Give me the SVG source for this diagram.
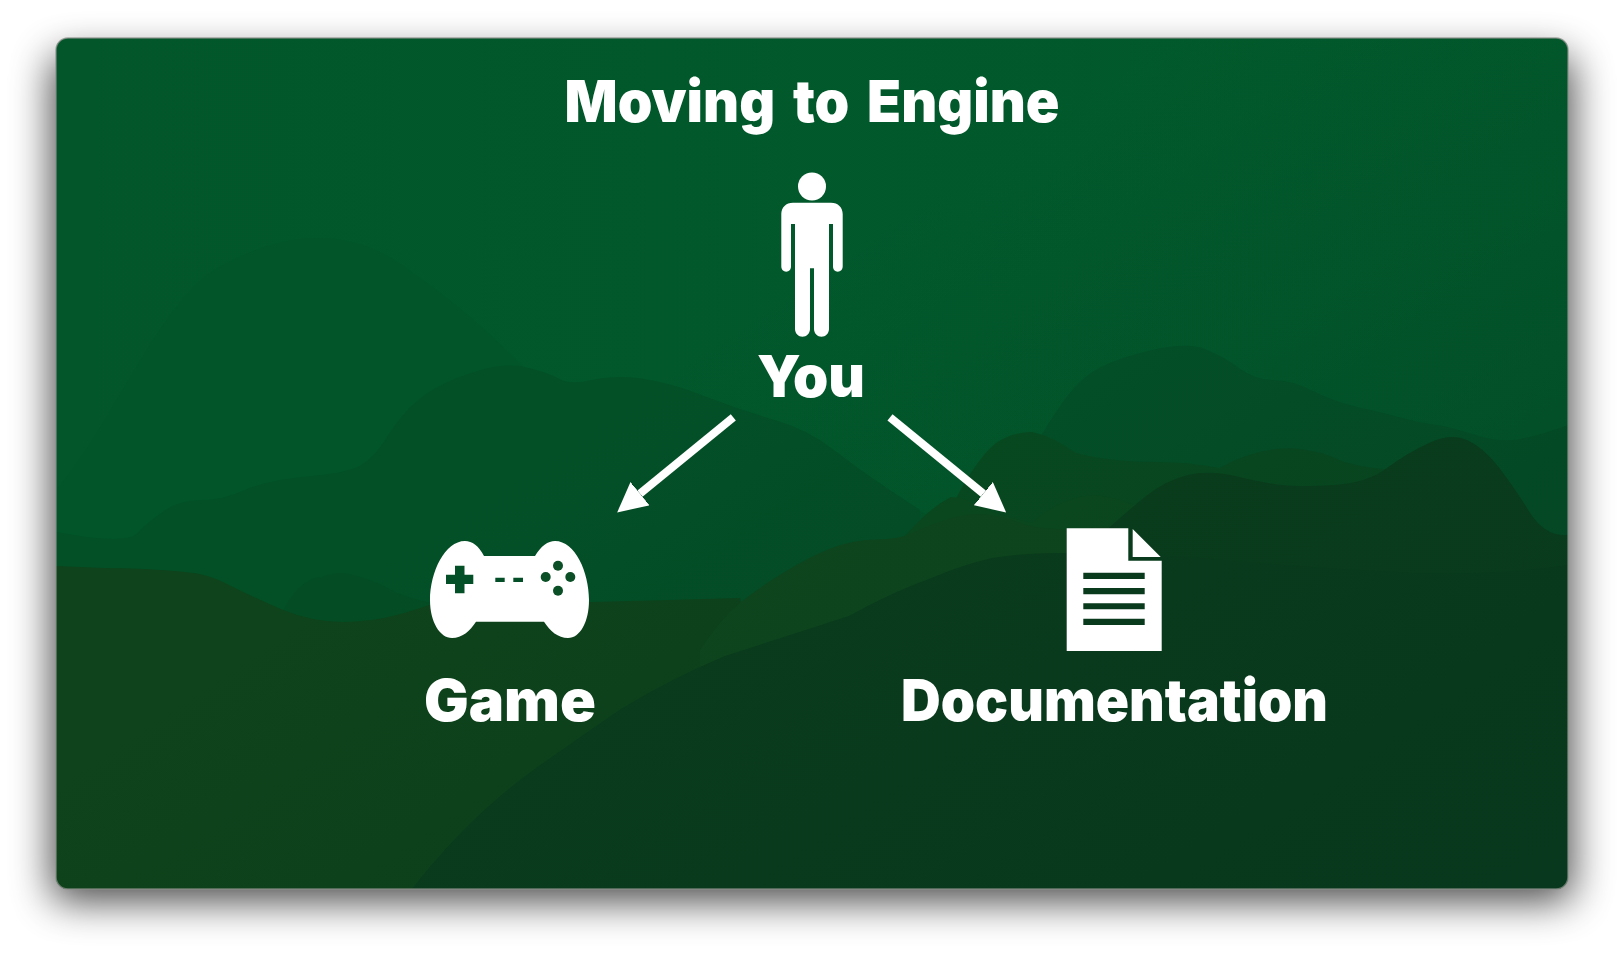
<svg xmlns="http://www.w3.org/2000/svg" width="1624" height="963" viewBox="0 0 1624 963">
<style>
.lbl{font-family:"Inter","Lato","Liberation Sans",sans-serif;font-weight:900;fill:#fff;text-anchor:middle;font-variant-ligatures:none}
.ico{fill:#fff}
.cut{fill:#0a4f26}
.conn{stroke:#fff;stroke-width:8;fill:none;marker-end:url(#head)}
</style>
<defs>
<clipPath id="card"><rect x="56" y="38" width="1512" height="851" rx="12"/></clipPath>
<filter id="sh" x="-10%" y="-15%" width="120%" height="130%"><feGaussianBlur stdDeviation="20"/></filter>
<linearGradient id="bg" x1="0" y1="0" x2="1" y2="0"><stop offset="0" stop-color="#02562a"/><stop offset="1" stop-color="#015b2c"/></linearGradient>
<linearGradient id="dark" x1="0.35" y1="0.45" x2="1" y2="1"><stop offset="0" stop-color="#06341e" stop-opacity="0"/><stop offset="1" stop-color="#06341e" stop-opacity=".5"/></linearGradient>
<marker id="head" markerUnits="userSpaceOnUse" markerWidth="30" markerHeight="30" refX="0" refY="15" orient="auto"><path d="M0 0L29.500 15L0 30Z" fill="#fff"/></marker>
</defs>
<rect x="52" y="56" width="1520" height="845" rx="12" fill="#000" opacity=".72" filter="url(#sh)"/>
<g id="background" clip-path="url(#card)">
<rect x="56" y="38" width="1512" height="851" fill="url(#bg)"/>
<path fill="#025529" d="M56 490C110 430 160 300 218 268C280 232 352 222 414 274C466 310 497 340 539 383L787 435L932 518V889H56Z"/>
<path fill="#035228" d="M1020 470Q1050 420 1065.500 398.500Q1081 377 1101 367Q1121 357 1154.500 349.500Q1188 342 1206 349.500Q1224 357 1239.500 368.500Q1255 380 1273 380Q1291 380 1313 391Q1335 402 1359.500 407.500Q1384 413 1400 417.500Q1416 422 1433.500 424.500Q1451 427 1475.500 435Q1500 443 1520.500 439Q1541 435 1568 425V889H1020Z"/>
<path fill="#035027" d="M56 532Q126 545 137 533.500Q148 522 164 511Q180 500 201.500 500Q223 500 245 490Q267 480 307.500 476.500Q348 473 361.500 465Q375 457 388.500 435Q402 413 421 398Q440 383 472.500 372.500Q505 362 527 367.500Q549 373 559.500 379Q570 385 592 380Q614 375 641 378.500Q668 382 704 396Q740 410 774.500 420Q809 430 836 451.500Q863 473 920 510V889H56Z"/>
<path fill="#084b20" d="M950 510Q975 460 996 443Q1012 432 1032 432Q1052 436 1076 453Q1110 462 1157 462Q1190 462 1219 468Q1255 448 1291 448Q1320 450 1344 462Q1375 470 1400 470L1440 600H950Z"/>
<path fill="#0b4a1e" d="M895 548Q925 510 951 497Q965 497 978 507Q1005 517 1032 523Q1060 497 1094 495Q1115 497 1134 505L1160 600H895Z"/>
<path fill="#044d24" d="M283 610Q300 578 321 577Q340 570 353 575Q375 580 397 593Q415 600 440 605V650H283Z"/>
<path fill="#0e431b" d="M56 566Q80 567 104 568Q145 568 185 572Q210 574 229 585Q255 598 283 610Q313 622 343 622Q370 622 397 615Q415 610 429 605Q510 602 592 602Q670 600 740 598L820 889H56Z"/>
<path fill="#0f471d" d="M700 650Q722 617 741 602Q760 587 784.500 572Q809 557 830.500 548.500Q852 540 876 539.500Q900 539 912.500 533Q925 527 947 519.500Q969 512 987 514.500Q1005 517 1018.500 522.500Q1032 528 1056 529Q1080 530 1120 525V889H700Z"/>
<path fill="#0a3e1b" d="M1090 545Q1125 513 1145.500 496.500Q1166 480 1188 475Q1210 470 1237 476.500Q1264 483 1282 485Q1300 487 1333.500 485Q1367 483 1387 468Q1407 453 1429 443Q1451 433 1467 440Q1483 447 1498.500 467Q1514 487 1529.500 512Q1545 537 1568 535V889H1090Z"/>
<path fill="#0a3c1c" d="M412 889Q470 815 539 766Q580 737 621 709Q672 678 725 656Q787 636 849 616Q892 592 934 577Q962 565 992 558Q1025 553 1059 553Q1130 553 1200 558Q1310 568 1416 573Q1500 575 1568 565V889Z"/>
<rect x="56" y="38" width="1512" height="851" fill="url(#dark)"/>
</g>
<rect x="56" y="38" width="1512" height="851" rx="12" fill="none" stroke="#8a8f8a" stroke-opacity=".75" stroke-width="1.500"/>
<text id="title" class="lbl" x="812" y="122" font-size="58" word-spacing="7" textLength="495" lengthAdjust="spacingAndGlyphs">Moving to Engine</text>
<g id="node-you">
<circle class="ico" cx="812" cy="186.500" r="14"/>
<path class="ico" d="M793 202.700H831C838 202.700 842.700 207.500 842.700 214V266.500C842.700 269.500 840.500 271.700 837.800 271.700C835 271.700 833 269.500 833 266.500V224H829V329C829 333.500 825.500 336.700 821.500 336.700C817.500 336.700 814 333.500 814 329V268.300H810V329C810 333.500 806.500 336.700 802.500 336.700C798.500 336.700 795 333.500 795 329V224H791V266.500C791 269.500 789 271.700 786.200 271.700C783.500 271.700 781.300 269.500 781.300 266.500V214C781.300 207.500 786 202.700 793 202.700Z"/>
<text class="lbl" x="811" y="396.500" font-size="58" textLength="108" lengthAdjust="spacingAndGlyphs">You</text>
</g>
<g id="node-game">
<path class="ico" fill-rule="evenodd" d="M484 556H535C541 546 548 541 555 541C575 541 589 572 589 600C589 622 580 638 568 638C558 638 550 631 544 621.700H476C470 631 462 638 452 638C440 638 430 622 430 600C430 572 445 541 465 541C472 541 479 546 484 556ZM455 565.700V574.700H446V584H455V593.300H464.500V584H473.300V574.700H464.500V565.700ZM495.300 577.700V582H504.700V577.700ZM513.300 577.700V582H523V577.700Z"/>
<circle class="cut" cx="558" cy="565.700" r="5"/><circle class="cut" cx="545.700" cy="577" r="5"/><circle class="cut" cx="570.300" cy="577" r="5"/><circle class="cut" cx="558" cy="590.700" r="5"/>
<text class="lbl" x="510" y="721" font-size="58" textLength="172" lengthAdjust="spacingAndGlyphs">Game</text>
</g>
<g id="node-documentation">
<path class="ico" fill-rule="evenodd" d="M1066.700 528.300H1128.300V560.700H1161.700V651H1066.700ZM1083.300 572.700V579H1144.700V572.700ZM1083.300 588V594.300H1144.700V588ZM1083.300 603.300V609.300H1144.700V603.300ZM1083.300 618.700V625H1144.700V618.700Z"/>
<path class="ico" d="M1132.700 529V557H1160.700Z"/>
<text class="lbl" x="1114.500" y="721" font-size="58" textLength="427" lengthAdjust="spacingAndGlyphs">Documentation</text>
</g>
<g id="connectors">
<path class="conn" d="M733.300 417.300L640 493.700"/>
<path class="conn" d="M890 417.300L983.300 493.700"/>
</g>
</svg>
